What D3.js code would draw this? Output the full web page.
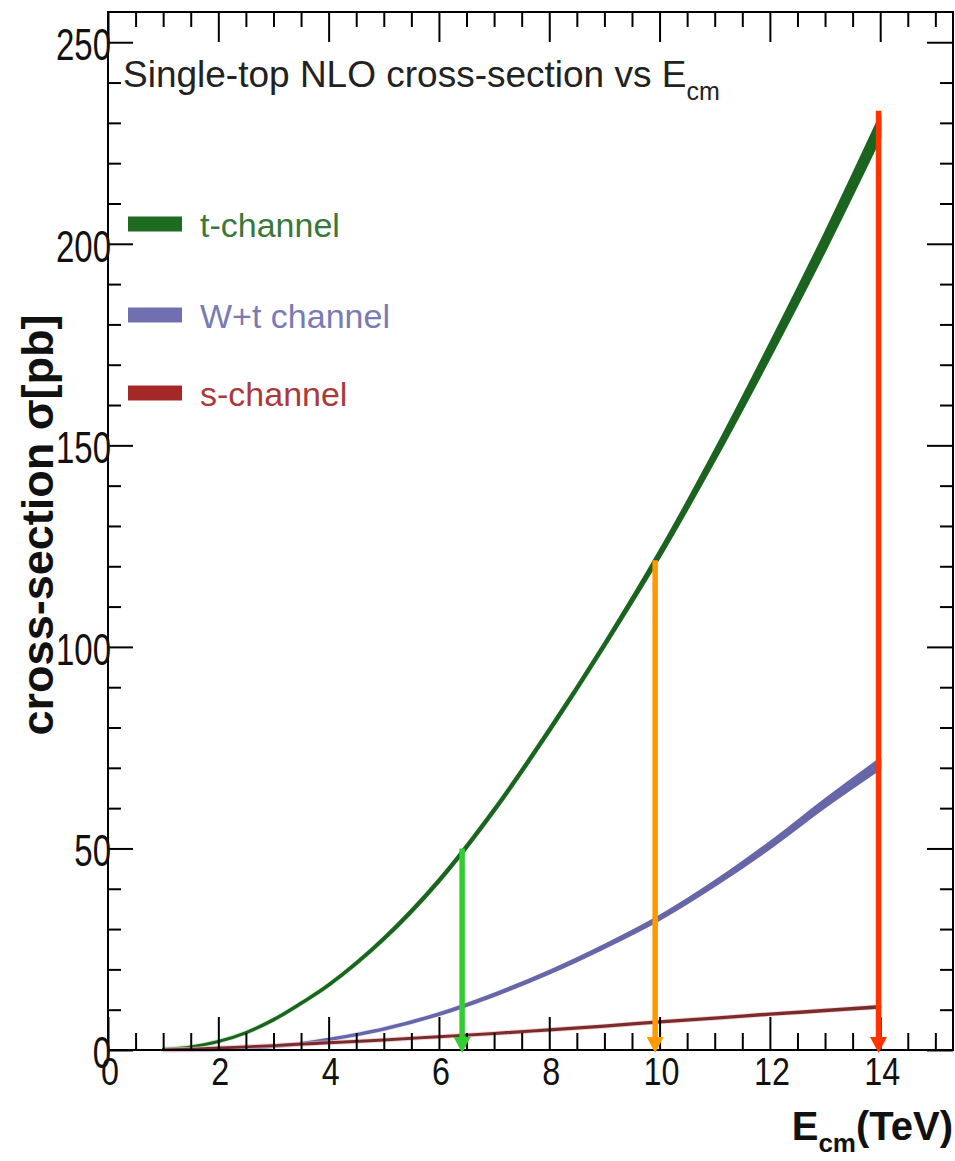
<!DOCTYPE html>
<html><head><meta charset="utf-8">
<script src="https://cdn.jsdelivr.net/npm/d3@7"></script>
<style>body{margin:0;background:#fff} svg{display:block}</style>
</head><body>
<script>
// ---- data ----
const energies   = [1, 1.5, 2, 2.5, 3, 3.5, 4, 5, 6, 7, 8, 9, 10, 11, 12, 13, 14];
const tChannel   = [0.2, 0.8, 2.1, 4.3, 7.5, 11.6, 16.1, 27.6, 42.0, 59.5, 79.3, 100.5, 123.0, 147.5, 173.5, 200.5, 229.0];
const tErr       = [0.05, 0.05, 0.1, 0.1, 0.15, 0.17, 0.2, 0.3, 0.35, 0.4, 0.45, 0.5, 0.8, 1.2, 1.7, 2.2, 2.7];
const wtChannel  = [0, 0, 0.1, 0.4, 0.9, 1.6, 2.6, 5.2, 8.9, 13.7, 19.3, 25.7, 32.8, 41.3, 50.8, 61.2, 71.0];
const wtErr      = [0, 0, 0.02, 0.05, 0.08, 0.1, 0.12, 0.15, 0.2, 0.25, 0.3, 0.35, 0.45, 0.55, 0.75, 0.95, 1.25];
const sChannel   = [0.05, 0.2, 0.5, 0.8, 1.1, 1.45, 1.8, 2.5, 3.3, 4.1, 5.0, 5.9, 7.0, 7.9, 8.9, 9.8, 10.7];
const sErr       = [0.02, 0.03, 0.05, 0.05, 0.06, 0.065, 0.07, 0.08, 0.08, 0.09, 0.1, 0.1, 0.11, 0.12, 0.13, 0.14, 0.15];
const seriesNames = ["t-channel", "W+t channel", "s-channel"];
const xTickValues = [0, 2, 4, 6, 8, 10, 12, 14];
const yTickValues = [0, 50, 100, 150, 200, 250];
const arrowEnergies = [6.42, 9.92, 13.97];
const arrowTops     = [50, 121.5, 233];

// ---- styles ----
const bandColors = ["#1b641f", "#6666a8", "#7a2c2c"];
const haloColors = ["#b4e4b4", "#d2d2ee", "#f2b8b8"];
const textColors = ["#3a773a", "#7a7ab4", "#aa3a3a"];
const swatchColors = ["#1e6b22", "#7070b0", "#a52828"];
const arrowColors = ["#33cc33", "#ff9900", "#ff3300"];

const W = 955, H = 1161;
const L = 108, R = 953, T = 12, B = 1050;

const svg = d3.select("body").append("svg").attr("width", W).attr("height", H)
  .style("font-family", "'Liberation Sans', Arial, sans-serif");

const x = d3.scaleLinear().domain([0, 15.32]).range([L, R]);
const y = d3.scaleLinear().domain([0, 257.5]).range([B, T]);

// ---- bands ----
const series = [[tChannel, tErr], [wtChannel, wtErr], [sChannel, sErr]];
series.forEach(([vals, errs], i) => {
  const pts = energies.map((e, k) => ({e, v: vals[k], d: errs[k]}));
  const curve = d3.curveCatmullRom.alpha(0.5);
  const line = d3.line().x(d => x(d.e)).y(d => y(d.v)).curve(curve);
  const area = d3.area().x(d => x(d.e)).y0(d => y(d.v - d.d)).y1(d => y(d.v + d.d)).curve(curve);
  svg.append("path").attr("d", line(pts)).attr("fill", "none")
    .attr("stroke", haloColors[i]).attr("stroke-width", 5).attr("stroke-opacity", 0.6);
  svg.append("path").attr("d", area(pts)).attr("fill", bandColors[i])
    .attr("stroke", bandColors[i]).attr("stroke-width", 2.4).attr("stroke-linejoin", "round");
});

// ---- frame & axes ----
svg.append("rect").attr("x", L).attr("y", T).attr("width", R - L).attr("height", B - T)
  .attr("fill", "none").attr("stroke", "#000").attr("stroke-width", 2);

const xMinor = d3.range(0, 15.5, 0.5).filter(v => v % 2 !== 0);
const yMinor = d3.range(0, 257, 10).filter(v => v % 50 !== 0);

function styleAxis(g) {
  g.select(".domain").remove();
  g.selectAll("line").attr("stroke", "#000").attr("stroke-width", 2);
  g.selectAll("text").remove();
}
svg.append("g").attr("transform", `translate(0,${B})`).call(d3.axisBottom(x).tickValues(xTickValues).tickSize(-33)).call(styleAxis);
svg.append("g").attr("transform", `translate(0,${B})`).call(d3.axisBottom(x).tickValues(xMinor).tickSize(-17)).call(styleAxis);
svg.append("g").attr("transform", `translate(0,${T})`).call(d3.axisTop(x).tickValues(xTickValues).tickSize(-30)).call(styleAxis);
svg.append("g").attr("transform", `translate(0,${T})`).call(d3.axisTop(x).tickValues(xMinor).tickSize(-15)).call(styleAxis);
svg.append("g").attr("transform", `translate(${L},0)`).call(d3.axisLeft(y).tickValues(yTickValues).tickSize(-25)).call(styleAxis);
svg.append("g").attr("transform", `translate(${L},0)`).call(d3.axisLeft(y).tickValues(yMinor).tickSize(-13)).call(styleAxis);
svg.append("g").attr("transform", `translate(${R},0)`).call(d3.axisRight(y).tickValues(yTickValues).tickSize(-26)).call(styleAxis);
svg.append("g").attr("transform", `translate(${R},0)`).call(d3.axisRight(y).tickValues(yMinor).tickSize(-13)).call(styleAxis);

// tick labels
svg.append("g").selectAll("text").data(xTickValues).join("text")
  .attr("transform", d => `translate(${x(d) + 2},${B + 35}) scale(0.85,1)`)
  .attr("text-anchor", "middle").attr("font-size", 38).attr("fill", "#111")
  .text(d => d);
svg.append("g").selectAll("text").data(yTickValues).join("text")
  .attr("transform", d => `translate(${L + 3},${y(d) + 18}) scale(0.75,1)`)
  .attr("text-anchor", "end").attr("font-size", 44).attr("fill", "#111")
  .text(d => d);

// ---- arrows ----
arrowEnergies.forEach((e, i) => {
  const cx = x(e), top = y(arrowTops[i]), bot = y(0) + 3;
  const head = 16, hw = 8.5;
  svg.append("line").attr("x1", cx).attr("x2", cx).attr("y1", top).attr("y2", bot - head + 2)
    .attr("stroke", arrowColors[i]).attr("stroke-width", 5.5);
  svg.append("path").attr("d", `M${cx - hw},${bot - head}L${cx + hw},${bot - head}L${cx},${bot}Z`)
    .attr("fill", arrowColors[i]);
});

// ---- title ----
const title = svg.append("text").attr("x", 123).attr("y", 87).attr("font-size", 37).attr("fill", "#222");
title.append("tspan").text("Single-top NLO cross-section vs E");
title.append("tspan").attr("font-size", 25).attr("dy", 13).text("cm");

// ---- legend ----
seriesNames.forEach((name, i) => {
  const yc = [224, 315, 393][i];
  svg.append("rect").attr("x", 128).attr("y", yc - 7.5).attr("width", 54).attr("height", 15)
    .attr("fill", swatchColors[i]);
  svg.append("text").attr("x", 200).attr("y", yc + 13).attr("font-size", 34)
    .attr("fill", textColors[i]).text(name);
});

// ---- axis titles ----
svg.append("text").attr("transform", "translate(53,525) rotate(-90)")
  .attr("text-anchor", "middle").attr("font-size", 45).attr("font-weight", "bold").attr("fill", "#111")
  .text("cross-section σ[pb]");
const xt = svg.append("text").attr("x", 953).attr("y", 1140).attr("text-anchor", "end")
  .attr("font-size", 40).attr("font-weight", "bold").attr("fill", "#111");
xt.append("tspan").text("E");
xt.append("tspan").attr("font-size", 26).attr("dy", 12).text("cm");
xt.append("tspan").attr("dy", -12).text("(TeV)");
</script>
</body></html>
